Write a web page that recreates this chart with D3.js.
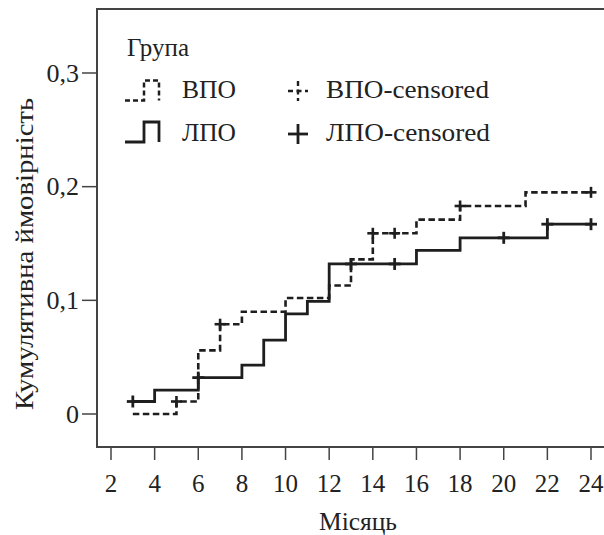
<!DOCTYPE html>
<html>
<head>
<meta charset="utf-8">
<script src="https://cdn.jsdelivr.net/npm/d3@7/dist/d3.min.js"></script>
<style>
  body { margin: 0; background: #fff; }
  text { font-family: "Liberation Serif", "Times New Roman", serif; fill: #222; }
</style>
</head>
<body>
<svg id="chart" width="604" height="535"></svg>
<script>
// step curves: time of each jump and level after it
const vpoTimes = [3, 5, 6, 7, 8, 10, 12, 13, 14, 16, 18, 21, 24];
const vpoValues = [0, 0.011, 0.056, 0.079, 0.090, 0.102, 0.113, 0.136, 0.159, 0.171, 0.183, 0.195, 0.195];
const vpoCensored = [5, 7, 14, 15, 18, 24];

const lpoTimes = [3, 4, 6, 8, 9, 10, 11, 12, 16, 18, 22, 24];
const lpoValues = [0.011, 0.021, 0.032, 0.043, 0.065, 0.088, 0.099, 0.132, 0.144, 0.155, 0.167, 0.167];
const lpoCensored = [3, 6, 13, 15, 20, 22, 24];

const xTicks = [2, 4, 6, 8, 10, 12, 14, 16, 18, 20, 22, 24];
const yTicks = [0, 0.1, 0.2, 0.3];
const yTickLabels = ["0", "0,1", "0,2", "0,3"];

const svg = d3.select("#chart");
const ink = "#1e1e1e";

const frame = { left: 97, top: 9, right: 604, bottom: 447 };
const x = d3.scaleLinear().domain([2, 24]).range([111, 591]);
const y = d3.scaleLinear().domain([0, 0.3]).range([414, 73]);

// frame: left, top, bottom (no right side)
const fg = svg.append("g").attr("stroke", "#444").attr("stroke-width", 2).attr("fill", "none");
fg.append("path").attr("d", `M${frame.right},${frame.top}H${frame.left}V${frame.bottom}H${frame.right}`);

// y axis ticks + labels
svg.append("g").selectAll("line").data(yTicks).join("line")
  .attr("x1", 82).attr("x2", frame.left)
  .attr("y1", d => y(d)).attr("y2", d => y(d))
  .attr("stroke", "#444").attr("stroke-width", 1.5);
svg.append("g").selectAll("text").data(yTicks).join("text")
  .attr("x", 79).attr("y", d => y(d) + 8.5)
  .attr("text-anchor", "end").attr("font-size", 26)
  .text((d, i) => yTickLabels[i]);

// x axis ticks + labels
svg.append("g").selectAll("line").data(xTicks).join("line")
  .attr("x1", d => x(d)).attr("x2", d => x(d))
  .attr("y1", frame.bottom).attr("y2", 460)
  .attr("stroke", "#444").attr("stroke-width", 1.5);
svg.append("g").selectAll("text").data(xTicks).join("text")
  .attr("x", d => x(d)).attr("y", 492)
  .attr("text-anchor", "middle").attr("font-size", 25)
  .text(d => d);

// axis titles
svg.append("text").attr("x", 358).attr("y", 530)
  .attr("text-anchor", "middle").attr("font-size", 25)
  .attr("textLength", 78).attr("lengthAdjust", "spacingAndGlyphs").text("Місяць");
svg.append("text").attr("transform", "translate(33,254) rotate(-90)")
  .attr("text-anchor", "middle").attr("font-size", 25)
  .attr("textLength", 312).attr("lengthAdjust", "spacingAndGlyphs")
  .text("Кумулятивна ймовірність");

// step lines
const stepLine = d3.line().curve(d3.curveStepAfter).x(d => x(d[0])).y(d => y(d[1]));
const vpoPts = vpoTimes.map((t, i) => [t, vpoValues[i]]);
const lpoPts = lpoTimes.map((t, i) => [t, lpoValues[i]]);

svg.append("path").attr("d", stepLine(lpoPts))
  .attr("fill", "none").attr("stroke", ink).attr("stroke-width", 2.8);
svg.append("path").attr("d", stepLine(vpoPts))
  .attr("fill", "none").attr("stroke", ink).attr("stroke-width", 2.6)
  .attr("stroke-dasharray", "6.5,3.5");

// level of a step curve at time t
function levelAt(times, values, t) {
  const i = d3.bisectRight(times, t) - 1;
  return values[Math.max(0, i)];
}

function plus(g, cx, cy, h, w, sw) {
  g.append("line").attr("x1", cx - w).attr("x2", cx + w).attr("y1", cy).attr("y2", cy)
    .attr("stroke", ink).attr("stroke-width", sw);
  g.append("line").attr("x1", cx).attr("x2", cx).attr("y1", cy - h).attr("y2", cy + h)
    .attr("stroke", ink).attr("stroke-width", sw);
}

const cg = svg.append("g");
vpoCensored.forEach(t => plus(cg, x(t), y(levelAt(vpoTimes, vpoValues, t)), 5.5, 5.5, 2.6));
lpoCensored.forEach(t => plus(cg, x(t), y(levelAt(lpoTimes, lpoValues, t)), 6, 6, 2.8));

// legend
const lg = svg.append("g");
lg.append("text").attr("x", 127).attr("y", 56).attr("font-size", 25)
  .attr("textLength", 62).attr("lengthAdjust", "spacingAndGlyphs").text("Група");

lg.append("path").attr("d", "M125,100.5H144V80.5H159V100.5")
  .attr("fill", "none").attr("stroke", ink).attr("stroke-width", 2.5).attr("stroke-dasharray", "5,3");
lg.append("text").attr("x", 182).attr("y", 98).attr("font-size", 25)
  .attr("textLength", 54).attr("lengthAdjust", "spacingAndGlyphs").text("ВПО");
lg.append("line").attr("x1", 288).attr("x2", 308).attr("y1", 91).attr("y2", 91)
  .attr("stroke", ink).attr("stroke-width", 2.4).attr("stroke-dasharray", "5,3.5");
lg.append("line").attr("x1", 298).attr("x2", 298).attr("y1", 81).attr("y2", 101)
  .attr("stroke", ink).attr("stroke-width", 2.4).attr("stroke-dasharray", "5,3.5");
lg.append("text").attr("x", 326).attr("y", 98).attr("font-size", 25)
  .attr("textLength", 163).attr("lengthAdjust", "spacingAndGlyphs").text("ВПО-censored");

lg.append("path").attr("d", "M125,142H144V122H159V142")
  .attr("fill", "none").attr("stroke", ink).attr("stroke-width", 2.8);
lg.append("text").attr("x", 182).attr("y", 141).attr("font-size", 25)
  .attr("textLength", 54).attr("lengthAdjust", "spacingAndGlyphs").text("ЛПО");
plus(lg, 298, 134, 10, 10, 2.8);
lg.append("text").attr("x", 326).attr("y", 141).attr("font-size", 25)
  .attr("textLength", 164).attr("lengthAdjust", "spacingAndGlyphs").text("ЛПО-censored");
</script>
</body>
</html>
